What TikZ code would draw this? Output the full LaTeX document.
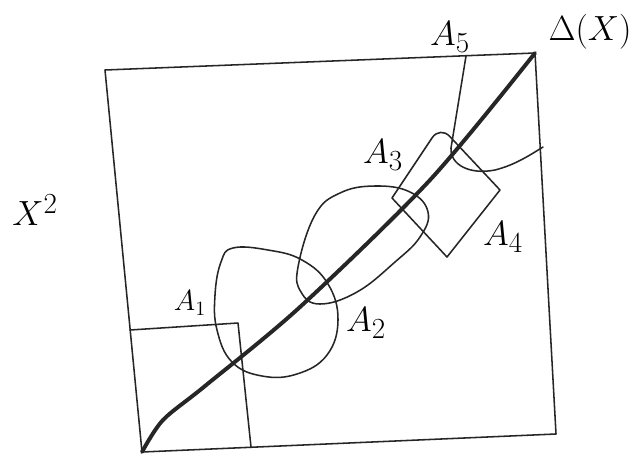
\documentclass[tikz,border=0pt]{standalone}
\usetikzlibrary{math}
\tikzset{
pen/.style={line width=1.1pt, color=black!85},
lbl/.style={font=\fontsize{28}{30}\selectfont, inner sep=0pt}
}
\begin{document}
\begin{tikzpicture}[x=0.025cm, y=-0.025cm, line cap=round, line join=round]

\useasboundingbox (0,0) rectangle (636,455);

\coordinate (TL) at (105,70);
\coordinate (TR) at (535,53);
\coordinate (BR) at (556,434);
\coordinate (BL) at (142,452);

%square X^2:
\draw[pen] (TL) -- (TR) -- (BR) -- (BL) -- cycle;

%A1, corner box
\draw[pen] (130,330) -- (238,323) -- (251,447);

%blob
\draw[pen] plot[smooth cycle, tension=0.7] coordinates {(233,248) (268,250) (302,260) (328,284) (338,320) (327,355) (297,374) (262,376) (232,362) (217,330) (215,295) (221,262)};

%oval along the diagonal
\draw[pen] plot[smooth cycle, tension=0.7] coordinates {(298,267) (315,215) (340,193) (375,186) (410,192) (428,212) (420,237) (395,262) (357,292) (320,304) (301,292)};

%tilted box
\draw[pen] (447,257) -- (392,198) [rounded corners=10pt] -- (440,126) [sharp corners] -- (500,190) -- cycle;

%top right corner piece
\draw[pen] (466,56) -- (451,148) .. controls (450,165) and (470,175) .. (495,170) .. controls (515,165) and (530,155) .. (543,147);

%diagonal:
\draw[line width=2.8pt, color=black!85] plot[smooth, tension=0.5] coordinates {(BL) (163,420) (205,386) (300,307) (430,180) (TR)};

%labels
\node[lbl] (x2) at (35,210) {$X^2$};
\node[lbl] (delta) at (590,32) {$\Delta(X)$};
\node[lbl, font=\fontsize{22}{24}\selectfont] (a1) at (190,303) {$A_1$};
\node[lbl] (a2) at (366,323) {$A_2$};
\node[lbl] (a3) at (383,155) {$A_3$};
\node[lbl] (a4) at (503,237) {$A_4$};
\node[lbl] (a5) at (450,37) {$A_5$};

\end{tikzpicture}
\end{document}
